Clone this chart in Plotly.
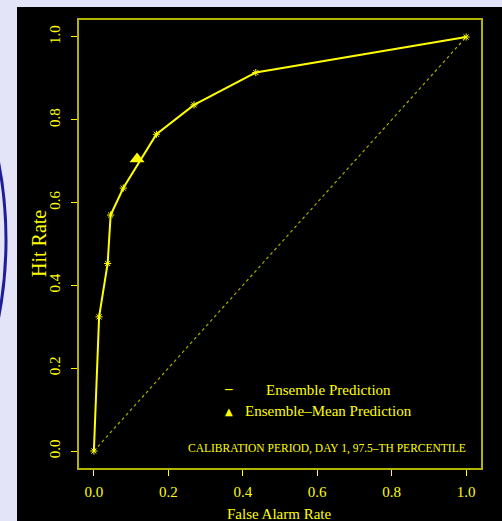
import plotly.graph_objects as go

# ROC curve data
far = [0.0, 0.014, 0.037, 0.045, 0.079, 0.168, 0.269, 0.435, 1.0]
hit = [0.0, 0.324, 0.453, 0.570, 0.635, 0.765, 0.836, 0.914, 1.0]
mean_far = [0.116]
mean_hit = [0.705]
diag = [0.0, 1.0]
ticks = [0.0, 0.2, 0.4, 0.6, 0.8, 1.0]
tick_text = ["0.0", "0.2", "0.4", "0.6", "0.8", "1.0"]

W, H = 502, 521
L, R, T, B = 79, 21, 20, 53
PW, PH = W - L - R, H - T - B

def px(x):
    return (x - L) / PW

def py(y):
    return (H - B - y) / PH

YEL = "#ffff00"
OLIVE = "#b4b400"
SERIF = "Liberation Serif"

fig = go.Figure()
fig.add_trace(go.Scatter(x=diag, y=diag, mode="lines",
                         line=dict(color="#a8a800", width=1.2, dash="3px,3px"),
                         showlegend=False, hoverinfo="skip"))
fig.add_trace(go.Scatter(x=far, y=hit, mode="lines+markers",
                         line=dict(color=YEL, width=2),
                         marker=dict(symbol="asterisk-open", size=6, color=YEL,
                                     line=dict(color=YEL, width=1)),
                         showlegend=False))
fig.add_trace(go.Scatter(x=mean_far, y=mean_hit, mode="markers",
                         marker=dict(symbol="triangle-up", size=13, color=YEL),
                         showlegend=False))

axis_common = dict(showgrid=False, zeroline=False, showline=True, mirror=True,
                   linecolor=OLIVE, linewidth=2, ticks="outside", ticklen=6,
                   tickwidth=1, tickcolor=YEL, tickvals=ticks, ticktext=tick_text,
                   tickfont=dict(family=SERIF, size=15, color=YEL))

def note(text, x, y, size, family=SERIF, angle=0):
    return dict(text=text, xref="paper", yref="paper", x=px(x), y=py(y),
                xanchor="center", yanchor="middle", showarrow=False,
                textangle=angle, font=dict(family=family, size=size, color=YEL))

fig.update_layout(
    width=W, height=H,
    margin=dict(l=L, r=R, t=T, b=B, pad=0),
    paper_bgcolor="#e4e4f8",
    plot_bgcolor="black",
    xaxis=dict(range=[-0.04, 1.04], ticklabelstandoff=3, **axis_common),
    yaxis=dict(range=[-0.041, 1.041], tickangle=-90, ticklabelstandoff=5, **axis_common),
    shapes=[
        dict(type="rect", xref="paper", yref="paper", layer="below",
             x0=px(17), x1=1.2, y0=-0.3, y1=py(7),
             fillcolor="black", line=dict(width=0)),
        dict(type="circle", xref="paper", yref="paper", layer="below",
             x0=px(-306), x1=px(6), y0=py(240 + 255), y1=py(240 - 255),
             fillcolor="rgba(0,0,0,0)", line=dict(color="#1e1e96", width=3)),
    ],
    annotations=[
        note("False Alarm Rate", 279, 514, 15),
        note("Hit Rate", 39, 244, 20, angle=-90),
        note("Ensemble Prediction", 328, 390, 15),
        note("Ensemble\u2013Mean Prediction", 328, 411, 15),
        note("<b>\u2013</b>", 228, 388, 15),
        note("\u25b2", 229, 411, 10, family="DejaVu Sans"),
        note("CALIBRATION PERIOD, DAY 1, 97.5\u2013TH PERCENTILE", 327, 448, 11.5),
    ],
)

fig.write_html("out.html")
